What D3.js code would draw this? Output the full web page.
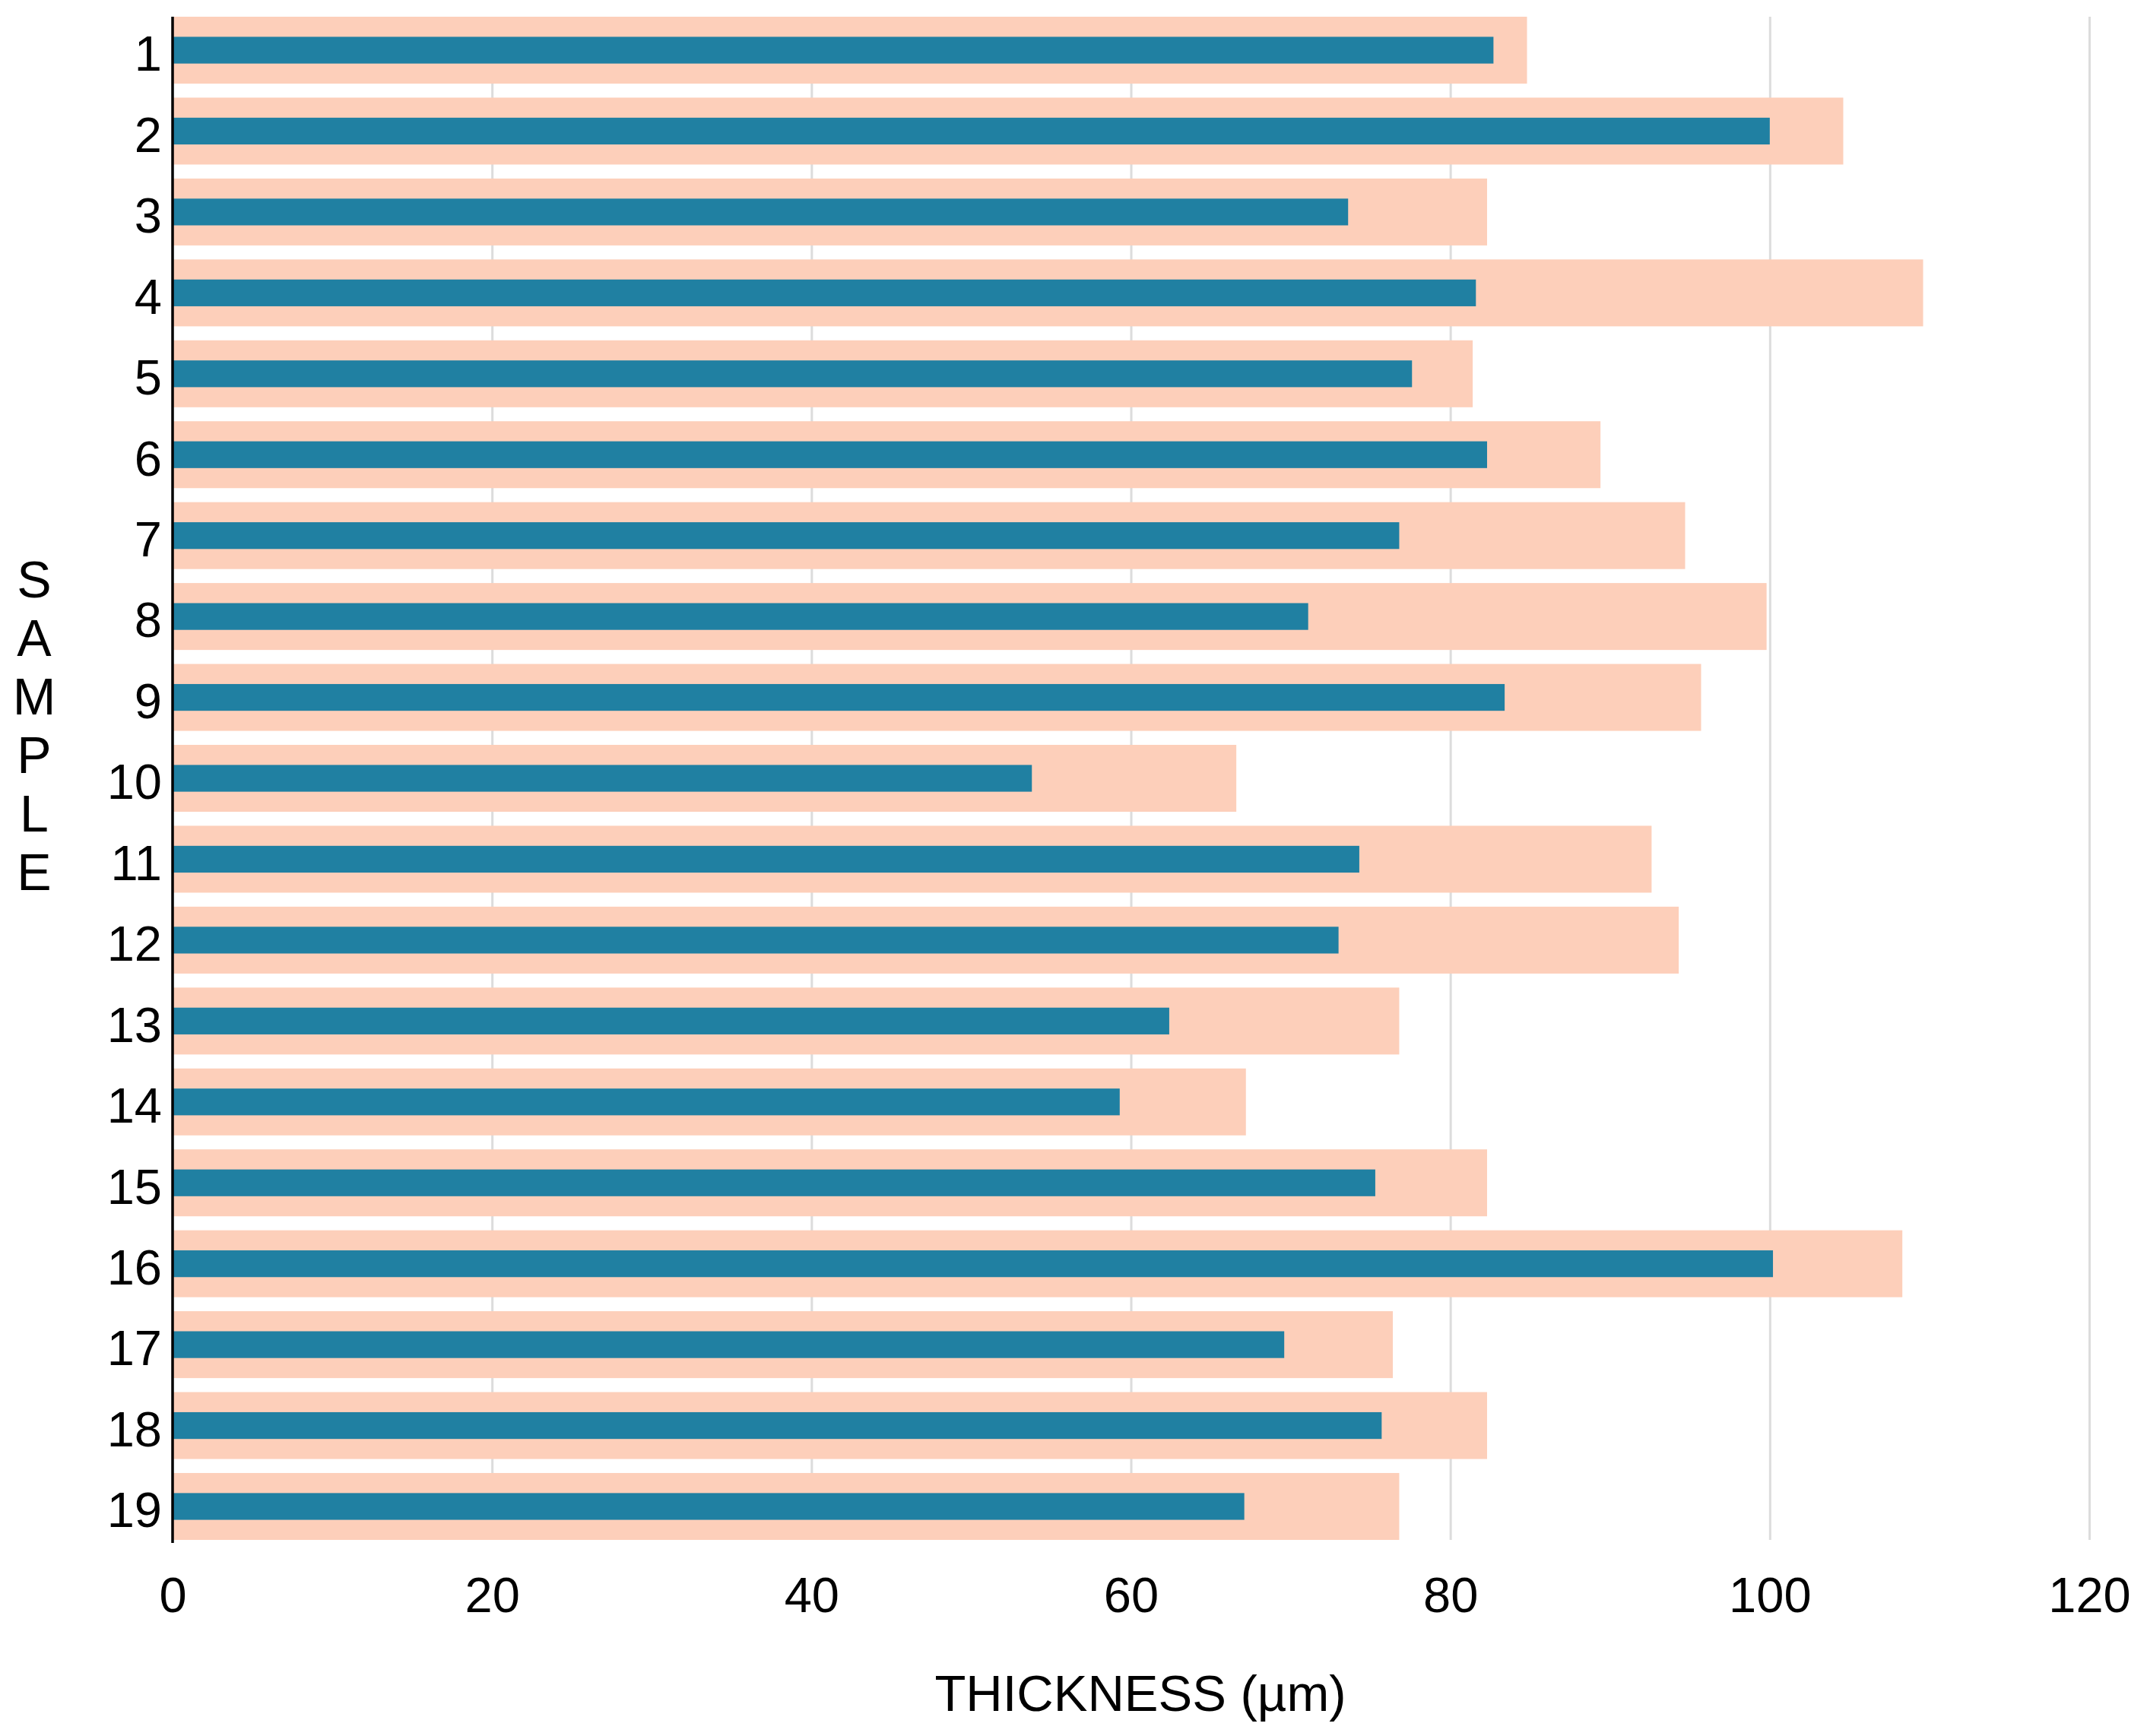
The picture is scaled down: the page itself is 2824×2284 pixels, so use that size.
<!DOCTYPE html>
<html>
<head>
<meta charset="utf-8">
<script src="https://cdn.jsdelivr.net/npm/d3@7"></script>
<style>
  html, body { margin: 0; padding: 0; background: #ffffff; }
  svg { display: block; }
  text { font-family: "Liberation Sans", Arial, Helvetica, sans-serif; fill: #000; }
</style>
</head>
<body>
<svg id="chart" width="2824" height="2284"></svg>
<script>
const samples = ["1","2","3","4","5","6","7","8","9","10","11","12","13","14","15","16","17","18","19"];
const outerValues = [84.8,104.6,82.3,109.6,81.4,89.4,94.7,99.8,95.7,66.6,92.6,94.3,76.8,67.2,82.3,108.3,76.4,82.3,76.8];
const innerValues = [82.7,100.0,73.6,81.6,77.6,82.3,76.8,71.1,83.4,53.8,74.3,73.0,62.4,59.3,75.3,100.2,69.6,75.7,67.1];
const xTicks = [0,20,40,60,80,100,120];
const xTitle = "THICKNESS (µm)";
const yTitle = "SAMPLE";

const svg = d3.select("#chart");
const margin = {left: 227, top: 22, right: 2824 - 2748, bottom: 2284 - 2026};
const W = 2824 - margin.left - margin.right;
const H = 2284 - margin.top - margin.bottom;

const x = d3.scaleLinear().domain([0, 120]).range([0, W]);
const y = d3.scaleBand().domain(samples).range([0, H]).paddingInner(0.173).paddingOuter(0);

const g = svg.append("g").attr("transform", `translate(${margin.left},${margin.top})`);

// gridlines
g.append("g")
  .attr("class", "grid")
  .call(d3.axisBottom(x).tickValues(xTicks.filter(d => d > 0)).tickSize(H).tickFormat(""))
  .call(s => s.select(".domain").remove())
  .call(s => s.selectAll("line").attr("stroke", "#dcdcdc").attr("stroke-width", 3));

const rows = samples.map((s, i) => ({s, outer: outerValues[i], inner: innerValues[i]}));

// outer (pink) bars
g.selectAll("rect.outer").data(rows).join("rect")
  .attr("class", "outer")
  .attr("x", 0)
  .attr("y", d => y(d.s))
  .attr("width", d => x(d.outer))
  .attr("height", y.bandwidth())
  .attr("fill", "#fdcfba");

// inner (blue) bars
const innerH = y.bandwidth() * 0.4;
g.selectAll("rect.inner").data(rows).join("rect")
  .attr("class", "inner")
  .attr("x", 0)
  .attr("y", d => y(d.s) + (y.bandwidth() - innerH) / 2)
  .attr("width", d => x(d.inner))
  .attr("height", innerH)
  .attr("fill", "#2080a2");

// x axis labels
g.append("g")
  .attr("transform", `translate(0,${H})`)
  .call(d3.axisBottom(x).tickValues(xTicks).tickSize(0).tickPadding(0).tickFormat(d3.format("d")))
  .call(s => s.select(".domain").remove())
  .call(s => s.selectAll("text")
    .attr("y", 72)
    .attr("dy", "0.35em")
    .style("font-size", "65px")
    .style("font-family", '"Liberation Sans", Arial, sans-serif')
    .attr("fill", "#000"));

// y axis labels
g.append("g")
  .call(d3.axisLeft(y).tickSize(0).tickPadding(14))
  .call(s => s.select(".domain").remove())
  .call(s => s.selectAll("text")
    .attr("dy", "0.42em")
    .style("font-size", "65px")
    .style("font-family", '"Liberation Sans", Arial, sans-serif')
    .attr("fill", "#000"));

// y axis line
g.append("line")
  .attr("x1", 0).attr("x2", 0)
  .attr("y1", 0).attr("y2", H + 4)
  .attr("stroke", "#000").attr("stroke-width", 3.5);

// x axis title
svg.append("text")
  .attr("x", 1500).attr("y", 2228)
  .attr("dy", "0.35em")
  .attr("text-anchor", "middle")
  .style("font-size", "67px")
  .text(xTitle);

// y axis title (stacked letters)
const letters = yTitle.split("");
svg.append("g").selectAll("text").data(letters).join("text")
  .attr("x", 45)
  .attr("y", (d, i) => 762 + i * 77)
  .attr("dy", "0.35em")
  .attr("text-anchor", "middle")
  .style("font-size", "68px")
  .text(d => d);
</script>
</body>
</html>
